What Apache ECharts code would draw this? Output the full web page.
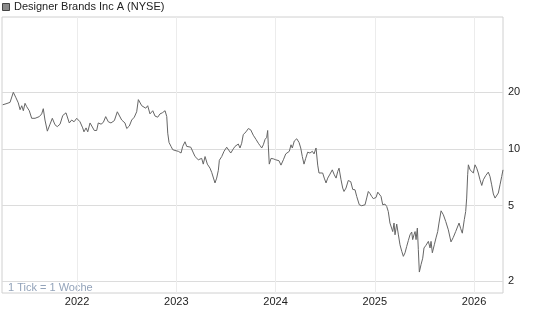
<!DOCTYPE html>
<html>
<head>
<meta charset="utf-8">
<script src="https://cdn.jsdelivr.net/npm/echarts@6/dist/echarts.min.js"></script>
<style>
html,body{margin:0;padding:0;background:#fff;}
#c{width:545px;height:327px;}
</style>
</head>
<body>
<div id="c"></div>
<script>
// Decimal-year dates of the weekly closes
const dates = [
2021.251,2021.284,2021.325,2021.358,2021.385,2021.408,2021.426,2021.443,2021.459,2021.476,
2021.493,2021.519,2021.543,2021.577,2021.620,2021.644,2021.660,2021.677,2021.701,2021.728,
2021.751,2021.778,2021.801,2021.829,2021.856,2021.889,2021.922,2021.946,2021.970,2021.997,
2022.030,2022.057,2022.070,2022.091,2022.108,2022.131,2022.148,2022.174,2022.198,2022.214,
2022.242,2022.265,2022.289,2022.315,2022.342,2022.376,2022.406,2022.426,2022.450,2022.466,
2022.483,2022.501,2022.527,2022.551,2022.577,2022.601,2022.618,2022.635,2022.652,2022.668,
2022.692,2022.712,2022.735,2022.763,2022.786,2022.813,2022.836,2022.859,2022.887,2022.904,
2022.914,2022.927,2022.947,2022.964,2022.987,2023.021,2023.048,2023.065,2023.088,2023.105,
2023.121,2023.146,2023.166,2023.189,2023.206,2023.222,2023.239,2023.256,2023.272,2023.290,
2023.313,2023.340,2023.357,2023.373,2023.390,2023.407,2023.424,2023.434,2023.458,2023.481,
2023.508,2023.524,2023.549,2023.575,2023.592,2023.609,2023.625,2023.642,2023.659,2023.675,
2023.703,2023.726,2023.750,2023.776,2023.804,2023.827,2023.844,2023.861,2023.877,2023.894,
2023.911,2023.921,2023.927,2023.937,2023.955,2023.978,2024.002,2024.022,2024.035,2024.055,
2024.079,2024.103,2024.123,2024.139,2024.156,2024.169,2024.189,2024.214,2024.237,2024.254,
2024.270,2024.287,2024.304,2024.324,2024.347,2024.371,2024.388,2024.408,2024.425,2024.438,
2024.458,2024.475,2024.491,2024.509,2024.526,2024.549,2024.572,2024.592,2024.610,2024.627,
2024.640,2024.660,2024.677,2024.690,2024.710,2024.733,2024.758,2024.778,2024.801,2024.818,
2024.844,2024.868,2024.902,2024.919,2024.935,2024.952,2024.969,2024.985,2025.013,2025.030,
2025.046,2025.063,2025.080,2025.103,2025.120,2025.136,2025.153,2025.171,2025.181,2025.194,
2025.204,2025.221,2025.237,2025.254,2025.272,2025.288,2025.305,2025.322,2025.338,2025.355,
2025.372,2025.382,2025.395,2025.406,2025.416,2025.429,2025.439,2025.449,2025.466,2025.483,
2025.496,2025.516,2025.540,2025.557,2025.567,2025.580,2025.600,2025.617,2025.634,2025.647,
2025.668,2025.691,2025.715,2025.741,2025.768,2025.791,2025.815,2025.832,2025.849,2025.866,
2025.882,2025.902,2025.916,2025.926,2025.936,2025.943,2025.960,2025.977,2025.993,2026.010,
2026.027,2026.043,2026.060,2026.078,2026.094,2026.118,2026.144,2026.161,2026.178,2026.195,
2026.212,2026.229,2026.245,2026.262,2026.279,2026.292
];
// Prices in USD
const prices = [
17.1,17.3,17.6,19.9,18.6,17.5,16.1,16.9,15.9,17.4,
16.7,15.9,14.5,14.5,14.8,15.3,16.3,14.2,12.4,13.5,
14.5,13.4,13.1,13.5,15.0,15.5,13.7,14.2,13.9,14.5,
13.9,12.9,12.3,12.9,12.3,13.7,13.4,12.5,12.5,13.7,
13.5,13.8,14.8,13.9,13.7,14.1,15.7,15.5,14.2,14.4,
13.7,12.8,13.2,14.2,14.7,15.7,18.2,17.8,16.9,17.3,
16.4,16.9,15.3,15.9,14.9,14.7,15.3,15.5,15.9,14.8,
12.1,10.8,10.3,9.9,9.8,9.7,9.5,10.3,10.9,10.3,
10.1,10.2,10.1,9.1,9.2,8.75,8.6,8.9,8.3,9.1,
8.3,7.9,7.5,7.6,6.6,7.0,7.7,8.7,9.1,9.7,
10.2,10.1,9.5,10.0,10.3,10.1,10.6,10.1,10.7,11.9,
12.3,12.8,12.6,11.8,11.2,10.7,10.4,10.1,10.5,11.2,
11.5,12.5,10.5,8.3,8.9,8.85,8.75,8.6,8.65,8.2,
8.75,9.4,9.5,9.7,10.5,10.1,11.0,11.3,10.8,10.1,
9.1,8.3,8.9,9.6,9.5,9.7,9.4,10.1,8.2,7.45,
7.3,7.45,7.0,6.6,7.0,7.35,7.74,7.29,7.0,7.6,
7.9,6.86,6.2,5.95,6.2,6.8,6.7,6.1,6.07,5.6,
5.06,5.0,5.06,5.5,5.95,5.8,5.6,5.45,5.53,5.9,
5.77,5.6,5.06,5.1,4.96,4.66,4.05,3.97,3.65,4.05,
3.51,4.0,3.54,3.11,2.87,2.7,2.82,3.05,3.27,3.51,
3.63,3.31,3.51,3.65,3.31,3.81,2.93,2.23,2.44,2.64,
2.99,3.09,3.24,2.99,3.24,2.82,3.11,3.38,3.65,4.05,
4.7,4.48,4.13,3.73,3.22,3.4,3.65,3.68,4.05,3.78,
3.58,4.22,4.66,5.49,7.29,8.23,7.74,7.9,7.45,8.23,
7.9,7.45,6.86,6.4,6.86,7.22,7.53,7.14,6.45,5.77,
5.49,5.49,5.84,6.45,7.14,7.74
];
const yTicks = [2, 5, 10, 20];
const xTicks = [2022, 2023, 2024, 2025, 2026];
const title = 'Designer Brands Inc A (NYSE)';
const note = '1 Tick = 1 Woche';

const FONT = "'Liberation Sans', Arial, sans-serif";
const chart = echarts.init(document.getElementById('c'), null, {renderer: 'canvas'});
const lineData = dates.map((d, i) => [d, prices[i]]);

const gridMarks = [];
yTicks.forEach(v => gridMarks.push({
  yAxis: v,
  lineStyle: {color: '#dcdcdc', width: 1, type: 'solid'},
  label: {show: true, position: 'end', formatter: String(v), color: '#222', fontSize: 11, fontFamily: FONT, distance: 5}
}));
xTicks.forEach(v => gridMarks.push({
  xAxis: v,
  lineStyle: {color: '#ececec', width: 1, type: 'solid'},
  label: {show: true, position: 'start', formatter: String(v), color: '#222', fontSize: 11, fontFamily: FONT, distance: 3}
}));

chart.setOption({
  animation: false,
  grid: {left: 2, right: 42, top: 17, bottom: 34, show: true, borderColor: '#d0d0d0', borderWidth: 1, backgroundColor: '#fff'},
  xAxis: {
    type: 'value', min: 2021.244, max: 2026.292,
    axisLine: {show: false}, axisTick: {show: false}, axisLabel: {show: false}, splitLine: {show: false}
  },
  yAxis: {
    type: 'log', logBase: 10, min: 1.728, max: 49.78,
    axisLine: {show: false}, axisTick: {show: false}, axisLabel: {show: false}, splitLine: {show: false}
  },
  graphic: [
    {type: 'rect', left: 2, top: 3, shape: {width: 7, height: 7}, style: {fill: '#8a8a8a', stroke: '#444', lineWidth: 1}},
    {type: 'text', left: 14, top: 1, style: {text: title, fill: '#222', font: '11px ' + FONT}},
    {type: 'text', left: 8, top: 282, style: {text: note, fill: '#93a3ba', font: '11px ' + FONT}}
  ],
  series: [
    {
      type: 'line', data: [], z: 1, silent: true,
      markLine: {silent: true, symbol: 'none', animation: false, data: gridMarks}
    },
    {
      type: 'line', data: lineData, z: 5, showSymbol: false, symbol: 'none',
      lineStyle: {color: '#666', width: 1}, silent: true
    }
  ]
});
</script>
</body>
</html>
